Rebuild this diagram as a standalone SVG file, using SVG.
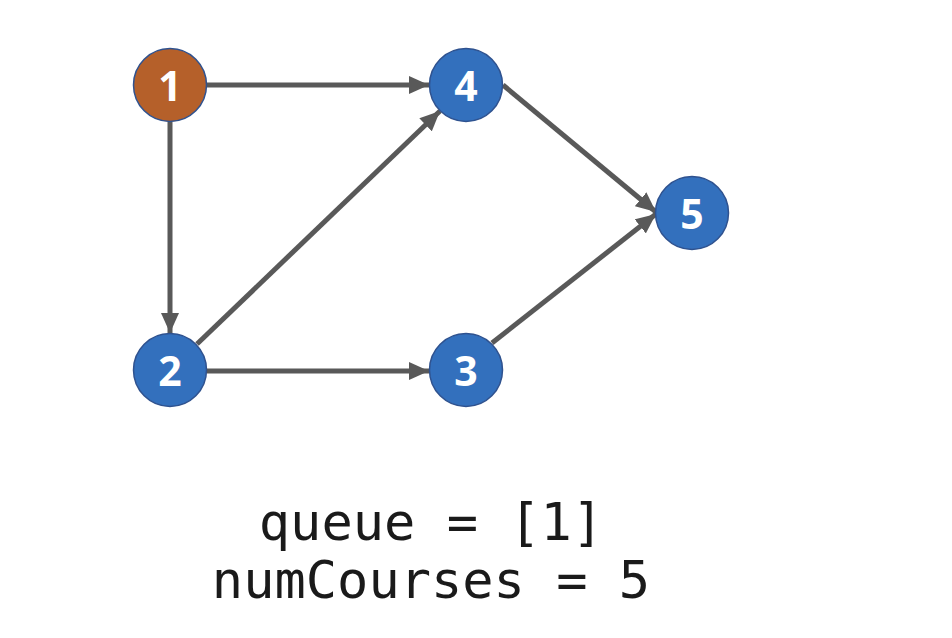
<svg xmlns="http://www.w3.org/2000/svg" width="952" height="638" viewBox="0 0 952 638">
  <style>
    .node circle { stroke: #2F528F; stroke-width: 1.5; }
    .blue circle { fill: #3370BD; }
    .orange circle { fill: #B5602A; }
    .node text { font-family: "Open Sans", "Noto Sans", sans-serif; font-weight: bold; font-size: 41px; fill: #FFFFFF; text-anchor: middle; }
    .edge { stroke: #595959; stroke-width: 5; fill: none; }
    .code { font-family: "DejaVu Sans Mono", "Liberation Mono", monospace; font-size: 52px; fill: #1A1A1A; text-anchor: middle; }
  </style>
  <defs>
    <marker id="arrow" viewBox="0 0 20 18" refX="20" refY="9" markerWidth="20" markerHeight="18" markerUnits="userSpaceOnUse" orient="auto">
      <path d="M0,0 L20,9 L0,18 Z" fill="#595959"/>
    </marker>
  </defs>
  <rect width="952" height="638" fill="#FFFFFF"/>
  <g id="connectors">
    <line class="edge" x1="207" y1="85" x2="429" y2="85" marker-end="url(#arrow)"/>
    <line class="edge" x1="170" y1="122" x2="170" y2="333" marker-end="url(#arrow)"/>
    <line class="edge" x1="197" y1="344" x2="440" y2="111" marker-end="url(#arrow)"/>
    <line class="edge" x1="207" y1="371" x2="429" y2="371" marker-end="url(#arrow)"/>
    <line class="edge" x1="503" y1="85" x2="656" y2="212" marker-end="url(#arrow)"/>
    <line class="edge" x1="492" y1="343" x2="656" y2="214" marker-end="url(#arrow)"/>
  </g>
  <g id="node1" class="node orange">
    <circle cx="170" cy="85" r="36.5"/>
    <text x="170" y="101">1</text>
  </g>
  <g id="node2" class="node blue">
    <circle cx="170" cy="370" r="36.5"/>
    <text x="170" y="386">2</text>
  </g>
  <g id="node3" class="node blue">
    <circle cx="466" cy="370" r="36.5"/>
    <text x="466" y="386">3</text>
  </g>
  <g id="node4" class="node blue">
    <circle cx="466" cy="85" r="36.5"/>
    <text x="466" y="101">4</text>
  </g>
  <g id="node5" class="node blue">
    <circle cx="692" cy="213" r="36.5"/>
    <text x="692" y="229">5</text>
  </g>
  <g id="labels">
    <text class="code" x="431" y="540" xml:space="preserve">queue = [1]</text>
    <text class="code" x="431" y="598" xml:space="preserve">numCourses = 5</text>
  </g>
</svg>
